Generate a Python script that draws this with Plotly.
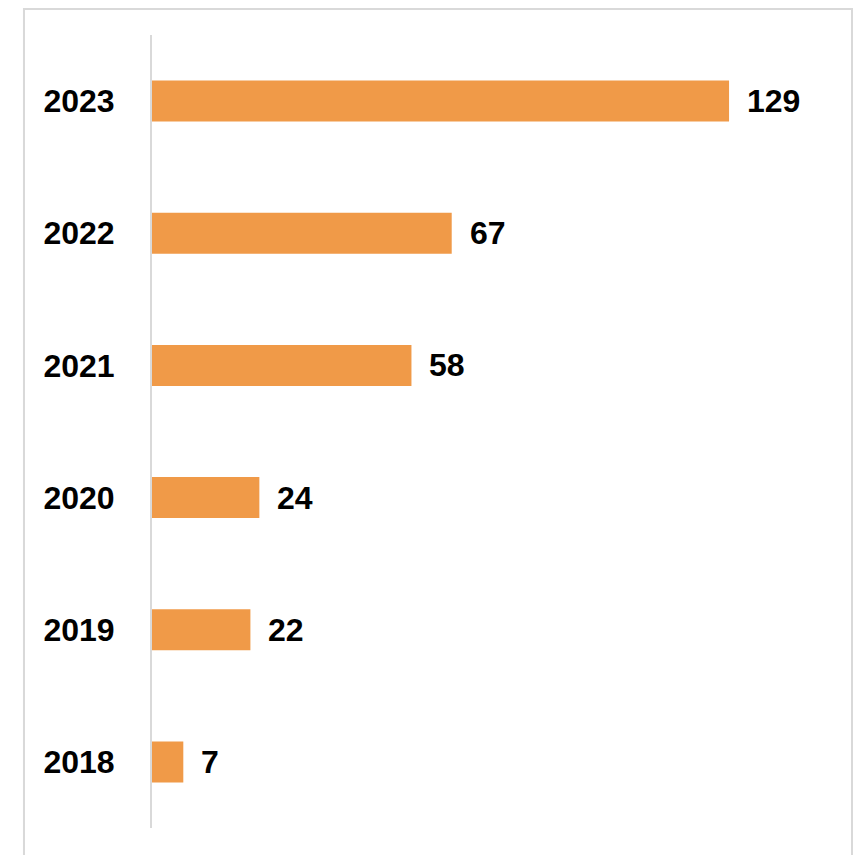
import plotly.graph_objects as go

years = ["2018", "2019", "2020", "2021", "2022", "2023"]
values = [7, 22, 24, 58, 67, 129]

bar_color = "#F09A48"
font_family = "Liberation Sans"

fig = go.Figure()
fig.add_trace(go.Bar(
    x=values, y=years, orientation="h",
    marker=dict(color=bar_color, line=dict(width=0)),
    width=0.31, hoverinfo="skip",
))

# value labels (category axis: position by category index)
for i, v in enumerate(values):
    fig.add_annotation(x=v, y=i, xref="x", yref="y", text=str(v), showarrow=False,
                       xanchor="left", yanchor="middle", xshift=16,
                       font=dict(family=font_family, size=32, color="black", weight="bold"))

fig.add_shape(type="rect", xref="paper", yref="paper",
              x0=-0.1908, x1=1.0432, y0=-0.06, y1=1.0328,
              line=dict(color="#d9d9d9", width=2), fillcolor="rgba(0,0,0,0)",
              layer="below")

fig.update_layout(
    width=853, height=847,
    margin=dict(l=144, r=38, t=27, b=27),
    paper_bgcolor="white", plot_bgcolor="white",
    showlegend=False,
    xaxis=dict(range=[0, 150], visible=False, fixedrange=True),
    yaxis=dict(type="category", categoryorder="array", categoryarray=years,
               range=[-0.5, 5.5],
               showline=True, linecolor="#d9d9d9", linewidth=2,
               showgrid=False, zeroline=False, ticks="",
               ticklabelstandoff=29,
               tickfont=dict(family=font_family, size=32, color="black", weight="bold")),
)

fig.write_html("out.html")
